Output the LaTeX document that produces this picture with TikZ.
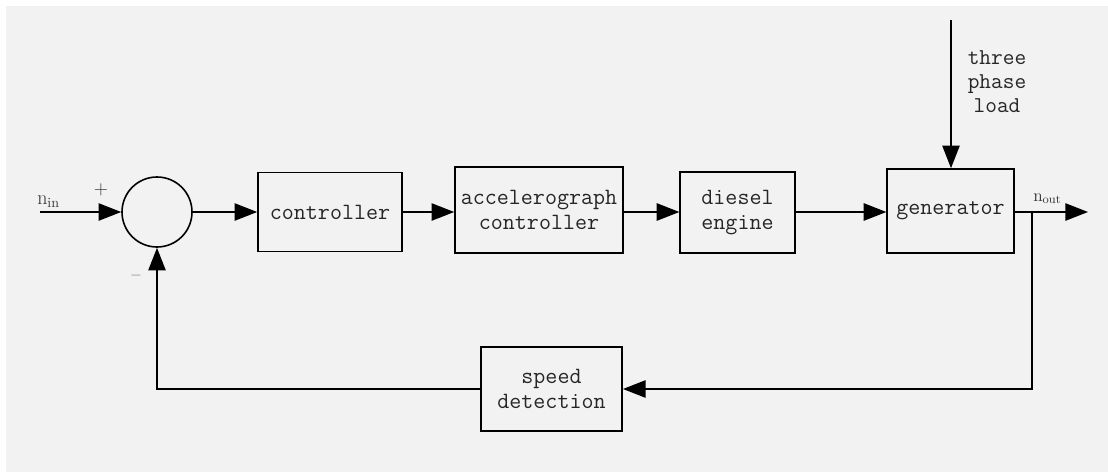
\documentclass[tikz,border=0pt]{standalone}
\usepackage{fontspec}
\usetikzlibrary{arrows.meta, positioning}
\definecolor{bggray}{HTML}{F2F2F2}

\begin{document}
\begin{tikzpicture}[x=0.75pt,y=-0.75pt,
    block/.style={draw, line width=1.2pt, align=center, inner sep=0pt,
        text=black!85, font=\ttfamily\fontsize{17.5}{19}\selectfont},
    sig/.style={line width=1.2pt, -{Triangle[length=17pt,width=13pt]}},
    wire/.style={line width=1.2pt}]
    % background
    \fill[white] (0,0) rectangle (1108,472);
    \fill[bggray] (6,6) rectangle (1108,472);
    \useasboundingbox (0,0) rectangle (1108,472);

    % summing point and blocks
    \node[draw, circle, line width=1.2pt, minimum size=52.5pt, inner sep=0pt] (sum) at (157,212) {};
    \node[block, minimum width=108pt, minimum height=59pt] (ctrl) at (330,212) {controller};
    \node[block, minimum width=126pt, minimum height=64.5pt] (accel) at (539,210) {accelerograph\\controller};
    \node[block, minimum width=86pt, minimum height=61pt] (diesel) at (737.5,212.5) {diesel\\engine};
    \node[block, minimum width=95pt, minimum height=63pt] (gen) at (950.5,211) {generator};
    \node[block, minimum width=106pt, minimum height=63pt] (speed) at (551.5,389) {speed\\detection};

    % free ends
    \coordinate (in) at (40,212);
    \coordinate (out) at (1088,212);
    \coordinate (branch) at (1032,212);
    \coordinate (load) at (951,20);

    % forward path
    \draw[sig] (in) -- (sum.west);
    \draw[sig] (sum.east) -- (ctrl.west |- sum.east);
    \draw[sig] (ctrl.east |- sum.east) -- (accel.west |- sum.east);
    \draw[sig] (accel.east |- sum.east) -- (diesel.west |- sum.east);
    \draw[sig] (diesel.east |- sum.east) -- (gen.west |- sum.east);
    \draw[sig] (gen.east |- sum.east) -- (out);
    \draw[sig] (load) -- (gen.north -| load);

    % feedback path
    \draw[sig] (branch) |- (speed.east);
    \draw[sig] (speed.west) -| (sum.south);

    % labels
    \node[font=\fontsize{15}{15}\selectfont, text=black!80, anchor=south west, inner sep=0pt] (nin) at (37,208) {n\textsubscript{in}};
    \node[font=\fontsize{14}{14}\selectfont, text=black!80, inner sep=0pt] (plus) at (101,190) {+};
    \node[font=\fontsize{14}{14}\selectfont, text=black!80, inner sep=0pt] (minus) at (136,278) {\textendash};
    \node[font=\fontsize{13}{13}\selectfont, text=black!80, anchor=south west, inner sep=0pt] (nout) at (1033,204) {n\textsubscript{out}};
    \node[font=\ttfamily\fontsize{17}{18}\selectfont, text=black!85, align=center, inner sep=0pt] (loadtxt) at (997,82) {three\\phase\\load};
\end{tikzpicture}
\end{document}
